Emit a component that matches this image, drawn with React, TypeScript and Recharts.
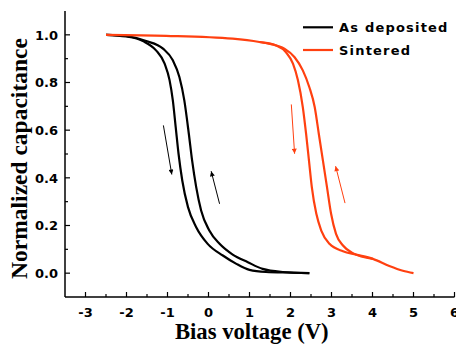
import React from "react";
import { LineChart, Line, XAxis, YAxis, Legend } from "recharts";

const BLACK = "#000000";
const RED = "#ff4010";

// As deposited: forward sweep (lower-left branch) and reverse sweep (right branch)
const asDepDown = [
  { v: -2.5, c: 1.0 }, { v: -2.01, c: 0.993 }, { v: -1.6, c: 0.974 }, { v: -1.28, c: 0.935 },
  { v: -1.07, c: 0.879 }, { v: -0.95, c: 0.81 }, { v: -0.87, c: 0.725 }, { v: -0.8, c: 0.613 },
  { v: -0.73, c: 0.5 }, { v: -0.64, c: 0.389 }, { v: -0.5, c: 0.277 }, { v: -0.3, c: 0.193 },
  { v: -0.02, c: 0.123 }, { v: 0.35, c: 0.074 }, { v: 0.68, c: 0.039 }, { v: 1.0, c: 0.014 },
  { v: 1.4, c: 0.005 }, { v: 2.0, c: 0.002 }, { v: 2.46, c: 0.0 },
];
const asDepUp = [
  { v: -2.5, c: 1.0 }, { v: -2.01, c: 0.995 }, { v: -1.52, c: 0.974 }, { v: -1.11, c: 0.942 },
  { v: -0.87, c: 0.893 }, { v: -0.71, c: 0.823 }, { v: -0.59, c: 0.725 }, { v: -0.48, c: 0.585 },
  { v: -0.4, c: 0.473 }, { v: -0.3, c: 0.361 }, { v: -0.18, c: 0.263 }, { v: 0.02, c: 0.179 },
  { v: 0.27, c: 0.123 }, { v: 0.59, c: 0.078 }, { v: 0.96, c: 0.046 }, { v: 1.32, c: 0.018 },
  { v: 1.81, c: 0.005 }, { v: 2.46, c: 0.0 },
];

// Sintered
const sintDown = [
  { v: -2.5, c: 1.0 }, { v: -1.03, c: 0.996 }, { v: 0.59, c: 0.984 }, { v: 1.24, c: 0.97 },
  { v: 1.65, c: 0.955 }, { v: 1.89, c: 0.927 }, { v: 2.06, c: 0.879 }, { v: 2.18, c: 0.81 },
  { v: 2.3, c: 0.697 }, { v: 2.38, c: 0.585 }, { v: 2.45, c: 0.473 }, { v: 2.52, c: 0.361 },
  { v: 2.63, c: 0.249 }, { v: 2.75, c: 0.179 }, { v: 2.95, c: 0.123 }, { v: 3.28, c: 0.092 },
  { v: 3.6, c: 0.078 }, { v: 4.01, c: 0.06 }, { v: 4.41, c: 0.03 }, { v: 4.74, c: 0.01 },
  { v: 5.0, c: 0.0 },
];
const sintUp = [
  { v: 1.24, c: 0.97 }, { v: 1.5, c: 0.962 }, { v: 1.85, c: 0.942 }, { v: 2.1, c: 0.906 },
  { v: 2.3, c: 0.851 }, { v: 2.46, c: 0.78 }, { v: 2.59, c: 0.697 }, { v: 2.69, c: 0.585 },
  { v: 2.79, c: 0.473 }, { v: 2.89, c: 0.361 }, { v: 2.99, c: 0.249 }, { v: 3.11, c: 0.165 },
  { v: 3.28, c: 0.116 }, { v: 3.52, c: 0.084 }, { v: 4.01, c: 0.06 },
];

// Sweep-direction arrows (start -> end)
const arrowBlackDown = [{ v: -1.1, c: 0.62 }, { v: -0.895, c: 0.414 }];
const arrowBlackUp = [{ v: 0.27, c: 0.291 }, { v: 0.065, c: 0.428 }];
const arrowRedDown = [{ v: 2.02, c: 0.708 }, { v: 2.1, c: 0.501 }];
const arrowRedUp = [{ v: 3.33, c: 0.294 }, { v: 3.1, c: 0.449 }];

const xTicks = [-3, -2.5, -2, -1.5, -1, -0.5, 0, 0.5, 1, 1.5, 2, 2.5, 3, 3.5, 4, 4.5, 5, 5.5, 6];
const yTicks = [0, 0.1, 0.2, 0.3, 0.4, 0.5, 0.6, 0.7, 0.8, 0.9, 1.0];
const xDomain = [-3.5, 6];
const yDomain = [-0.1, 1.1];

const legendItems = [
  { label: "As deposited", color: BLACK },
  { label: "Sintered", color: RED },
];

const xTitle = "Bias voltage (V)";
const yTitle = "Normalized capacitance";

const TICK_FONT = "'DejaVu Sans', Verdana, sans-serif";
const TITLE_FONT = "'Liberation Serif', 'Times New Roman', serif";

const isMajorX = (v: number) => Number.isInteger(v);
const isMajorY = (v: number) => Math.round(v * 10) % 2 === 0;

const BottomTick = (props: any) => {
  const { x, y, payload } = props;
  const major = isMajorX(payload.value);
  return (
    <g>
      <line x1={x} y1={y} x2={x} y2={y - (major ? 5 : 3)} stroke="#000" strokeWidth={1.2} />
      {major && (
        <text x={x} y={y + 19.5} textAnchor="middle" fontFamily={TICK_FONT} fontWeight="bold" fontSize={13} fill="#000">
          {payload.value}
        </text>
      )}
    </g>
  );
};

const TopTick = (props: any) => {
  const { x, y, payload } = props;
  const major = isMajorX(payload.value);
  return <line x1={x} y1={y} x2={x} y2={y + (major ? 5 : 3)} stroke="#000" strokeWidth={1.2} />;
};

const LeftTick = (props: any) => {
  const { x, y, payload } = props;
  const major = isMajorY(payload.value);
  return (
    <g>
      <line x1={x} y1={y} x2={x + (major ? 5 : 3)} y2={y} stroke="#000" strokeWidth={1.2} />
      {major && (
        <text x={x - 7} y={y + 4.7} textAnchor="end" fontFamily={TICK_FONT} fontWeight="bold" fontSize={13} fill="#000">
          {payload.value.toFixed(1)}
        </text>
      )}
    </g>
  );
};

const RightTick = (props: any) => {
  const { x, y, payload } = props;
  const major = isMajorY(payload.value);
  return <line x1={x} y1={y} x2={x - (major ? 5 : 3)} y2={y} stroke="#000" strokeWidth={1.2} />;
};

const XTitle = (props: any) => {
  const vb = props.viewBox;
  return (
    <text x={vb.x + vb.width / 2 - 8} y={vb.y + 41.5} textAnchor="middle" fontFamily={TITLE_FONT} fontWeight="bold" fontSize={22.7} fill="#000">
      {xTitle}
    </text>
  );
};

const YTitle = (props: any) => {
  const vb = props.viewBox;
  const cx = 26.5;
  const cy = vb.y + vb.height / 2 + 4.5;
  return (
    <text x={cx} y={cy} transform={`rotate(-90, ${cx}, ${cy})`} textAnchor="middle" fontFamily={TITLE_FONT} fontWeight="bold" fontSize={23.5} fill="#000">
      {yTitle}
    </text>
  );
};

const LegendContent = () => (
  <svg width={156} height={50} style={{ display: "block" }}>
    {legendItems.map((it, i) => (
      <g key={it.label}>
        <line x1={3} x2={33} y1={12.3 + i * 22.7} y2={12.3 + i * 22.7} stroke={it.color} strokeWidth={2.2} />
        <text x={39} y={16.7 + i * 23.3} fontFamily={TICK_FONT} fontWeight="bold" fontSize={13} letterSpacing={1.2} fill="#000">
          {it.label}
        </text>
      </g>
    ))}
  </svg>
);

const ArrowDefs = () => (
  <svg width={0} height={0} style={{ position: "absolute" }}>
    <defs>
      <marker id="ahBlack" viewBox="0 0 10 10" refX="10" refY="5" markerWidth="7" markerHeight="5" markerUnits="userSpaceOnUse" orient="auto">
        <path d="M0,0 L10,5 L0,10 z" fill={BLACK} />
      </marker>
      <marker id="ahRed" viewBox="0 0 10 10" refX="10" refY="5" markerWidth="7" markerHeight="5" markerUnits="userSpaceOnUse" orient="auto">
        <path d="M0,0 L10,5 L0,10 z" fill={RED} />
      </marker>
    </defs>
  </svg>
);

export default function App() {
  const common = { dataKey: "c", dot: false, activeDot: false, isAnimationActive: false, legendType: "none" as const };
  return (
    <div style={{ position: "absolute", left: 0, top: 0, width: 456, height: 344, background: "#fff" }}>
      <ArrowDefs />
      <LineChart width={456} height={344} margin={{ top: 11, right: 1.5, bottom: 0, left: 0 }}>
        <XAxis
          dataKey="v"
          type="number"
          domain={xDomain}
          ticks={xTicks}
          interval={0}
          allowDataOverflow
          height={47}
          tickSize={0}
          tickMargin={0}
          tickLine={false}
          tick={<BottomTick />}
          axisLine={{ stroke: "#000", strokeWidth: 1.5 }}
          label={<XTitle />}
        />
        <XAxis
          xAxisId="top"
          orientation="top"
          dataKey="v"
          type="number"
          domain={xDomain}
          ticks={xTicks}
          interval={0}
          allowDataOverflow
          height={0}
          tickSize={0}
          tickMargin={0}
          tickLine={false}
          tick={<TopTick />}
          axisLine={{ stroke: "#000", strokeWidth: 1.5 }}
        />
        <YAxis
          type="number"
          domain={yDomain}
          ticks={yTicks}
          interval={0}
          allowDataOverflow
          width={65}
          tickSize={0}
          tickMargin={0}
          tickLine={false}
          tick={<LeftTick />}
          axisLine={{ stroke: "#000", strokeWidth: 1.5 }}
          label={<YTitle />}
        />
        <YAxis
          yAxisId="right"
          orientation="right"
          type="number"
          domain={yDomain}
          ticks={yTicks}
          interval={0}
          allowDataOverflow
          width={0}
          tickSize={0}
          tickMargin={0}
          tickLine={false}
          tick={<RightTick />}
          axisLine={{ stroke: "#000", strokeWidth: 1.5 }}
        />
        <Legend
          layout="vertical"
          align="center"
          verticalAlign="middle"
          content={<LegendContent />}
          wrapperStyle={{ position: "absolute", left: 300, top: 15, width: 156, height: 50 }}
        />
        <Line {...common} data={asDepDown} type="monotone" stroke={BLACK} strokeWidth={2.2} />
        <Line {...common} data={asDepUp} type="monotone" stroke={BLACK} strokeWidth={2.2} />
        <Line {...common} data={sintDown} type="monotone" stroke={RED} strokeWidth={2.2} />
        <Line {...common} data={sintUp} type="monotone" stroke={RED} strokeWidth={2.2} />
        <Line {...common} data={arrowBlackDown} type="linear" stroke={BLACK} strokeWidth={1} markerEnd="url(#ahBlack)" />
        <Line {...common} data={arrowBlackUp} type="linear" stroke={BLACK} strokeWidth={1} markerEnd="url(#ahBlack)" />
        <Line {...common} data={arrowRedDown} type="linear" stroke={RED} strokeWidth={1} markerEnd="url(#ahRed)" />
        <Line {...common} data={arrowRedUp} type="linear" stroke={RED} strokeWidth={1} markerEnd="url(#ahRed)" />
      </LineChart>
    </div>
  );
}
